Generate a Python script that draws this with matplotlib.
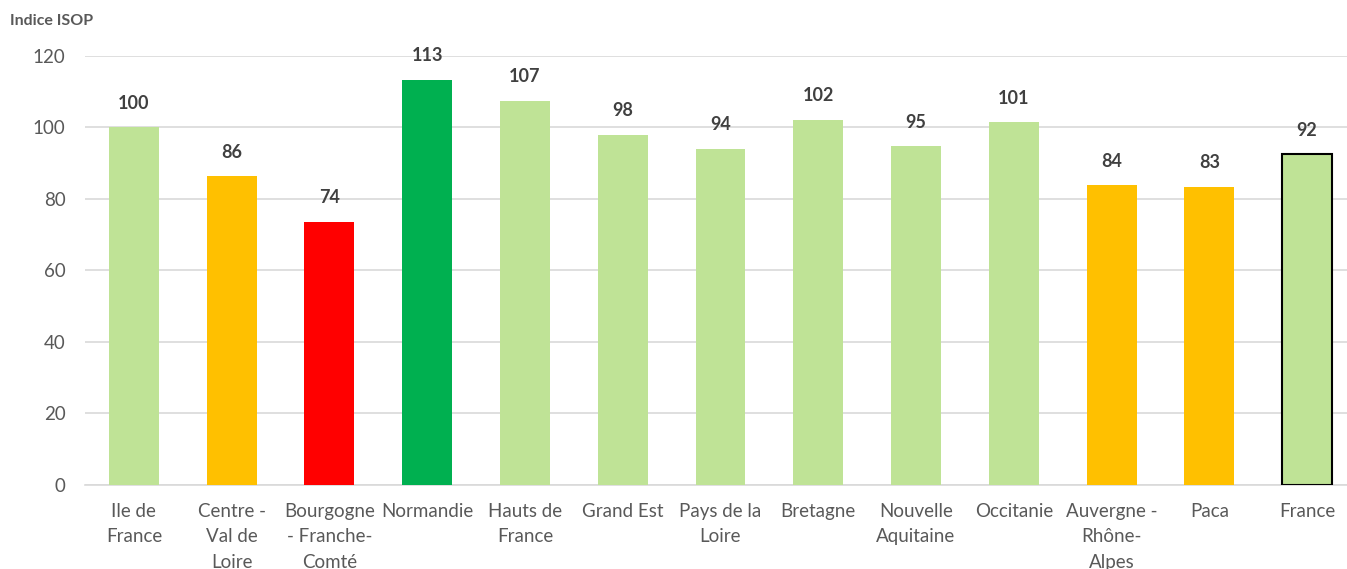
import matplotlib
matplotlib.use("Agg")
import matplotlib.pyplot as plt

regions = ["Ile de\nFrance", "Centre -\nVal de\nLoire", "Bourgogne\n- Franche-\nComté",
           "Normandie", "Hauts de\nFrance", "Grand Est", "Pays de la\nLoire", "Bretagne",
           "Nouvelle\nAquitaine", "Occitanie", "Auvergne -\nRhône-\nAlpes", "Paca", "France"]
isop = [100.1, 86.4, 73.6, 113.3, 107.4, 97.9, 94.0, 102.1, 94.8, 101.4, 83.9, 83.4, 92.4]
bar_colors = ["#BFE396", "#FFC000", "#FF0000", "#00B050", "#BFE396", "#BFE396", "#BFE396",
              "#BFE396", "#BFE396", "#BFE396", "#FFC000", "#FFC000", "#BFE396"]
yticks = [0, 20, 40, 60, 80, 100, 120]

plt.rcParams["font.family"] = ["Lato", "DejaVu Sans"]

fig = plt.figure(figsize=(13.47, 5.69), dpi=100)
ax = fig.add_axes([85/1347, 84/569, 1271/1347, 429.3/569])

x = range(len(regions))
edges = ["none"] * (len(regions) - 1) + ["black"]
bars = ax.bar(x, isop, width=0.51, color=bar_colors, edgecolor=edges, linewidth=1.5, zorder=3)

for b, v in zip(bars, isop):
    ax.annotate(f"{v:.0f}", (b.get_x() + b.get_width()/2, v), xytext=(0, 11),
                textcoords="offset points", ha="center", va="bottom",
                fontsize=13, fontweight="bold", color="#404040")

ax.set_xlim(-0.5, len(regions) - 0.5)
ax.set_ylim(0, 120)
ax.set_yticks(yticks)
ax.set_xticks(list(x))
ax.set_xticklabels(regions, linespacing=1.6)
ax.yaxis.grid(True, color="#D9D9D9", linewidth=1.2, zorder=0)
ax.set_axisbelow(True)
for s in ["top", "right", "left"]:
    ax.spines[s].set_visible(False)
ax.spines["bottom"].set_color("#D9D9D9")
ax.spines["bottom"].set_linewidth(1.2)
ax.tick_params(axis="both", length=0, labelsize=13.5, colors="#595959")
ax.tick_params(axis="x", pad=13)
ax.tick_params(axis="y", pad=14)

fig.text(10/1347, 1 - 21/569, "Indice ISOP", fontsize=11.5, fontweight="bold",
         color="#595959", va="center", ha="left")

fig.savefig("out.png", dpi=100)
